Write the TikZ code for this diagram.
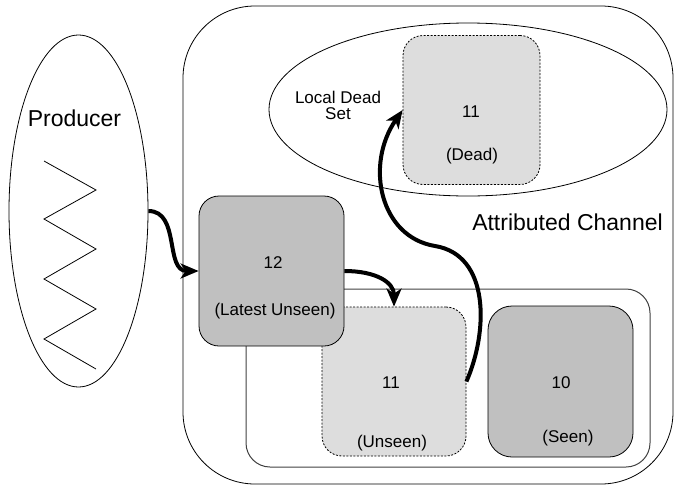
\documentclass[tikz,border=0pt]{standalone}
\usepackage{fontspec}
\setmainfont{Liberation Sans}
\definecolor{seengray}{RGB}{192,192,192}
\definecolor{unseengray}{RGB}{221,221,221}
\usetikzlibrary{arrows.meta,positioning,shapes.geometric}

\begin{document}
\begin{tikzpicture}[x=1pt, y=-1pt,
    box/.style={draw, rounded corners=20pt, line width=0.8pt, inner sep=0pt},
    ghost/.style={box, dash pattern=on 2pt off 1.5pt, fill=unseengray},
    flow/.style={line width=4pt, -{Stealth[length=18pt, width=15pt, inset=5pt]}},
    lbl/.style={font=\fontsize{17}{15.5}\selectfont, anchor=base, inner sep=0pt},
    big/.style={font=\fontsize{23}{27}\selectfont, anchor=base, inner sep=0pt}]
  \useasboundingbox (0,0) rectangle (674,485);

  % attributed channel and producer
  \node[box, rounded corners=72pt, minimum width=490pt, minimum height=478pt] (channel) at (428,245) {};
  \node[draw, ellipse, line width=0.8pt, minimum width=139pt, minimum height=352pt] (producer) at (78.5,211) {};
  \node[big] (prodname) at (74.5,126) {Producer};
  \draw[line width=0.8pt] (44,161) -- (96,190) -- (44,219) -- (96,249) -- (44,279) -- (96,309) -- (44,339) -- (96,369);
  \node[big] (channame) at (567.5,230) {Attributed Channel};

  % local dead set
  \node[draw, ellipse, line width=0.8pt, minimum width=398pt, minimum height=173pt] (deadset) at (468,109.5) {};
  \node[lbl, align=center] (deadname) at (338,119.3) {Local Dead\\Set};
  \node[ghost, minimum width=137pt, minimum height=149pt] (dead) at (471.5,110) {};
  \node[lbl] (deadnum) at (471,117) {11};
  \node[lbl] (deadtag) at (472,160) {(Dead)};

  % queue of the channel
  \node[box, draw=black!75, line width=1pt, rounded corners=24pt, minimum width=404pt, minimum height=178pt] (queue) at (448,378) {};
  \node[ghost, minimum width=144pt, minimum height=149pt] (unseen) at (394,381.5) {};
  \node[lbl] (unseennum) at (391,388) {11};
  \node[lbl] (unseentag) at (392,447) {(Unseen)};
  \node[box, fill=seengray, rounded corners=24pt, minimum width=145pt, minimum height=151pt] (seen) at (560.5,381.5) {};
  \node[lbl] (seennum) at (561,388) {10};
  \node[lbl] (seentag) at (568,442.5) {(Seen)};
  \node[box, fill=seengray, minimum width=145pt, minimum height=150pt] (latest) at (271.5,271) {};
  \node[lbl] (latestnum) at (273,268) {12};
  \node[lbl] (latesttag) at (275,315) {(Latest Unseen)};

  % moves
  \coordinate (bend) at (435,246);
  \draw[flow] (producer.east) .. controls +(32,0) and +(-34,0) .. (latest.west);
  \draw[flow] (latest.east) .. controls +(32,0) and +(0,-24) .. (unseen.north);
  \draw[flow] (unseen.east) .. controls +(22,-50) and +(55,9) .. (bend)
    .. controls +(-55,-9) and +(-38,55) .. (dead.west);
\end{tikzpicture}
\end{document}
